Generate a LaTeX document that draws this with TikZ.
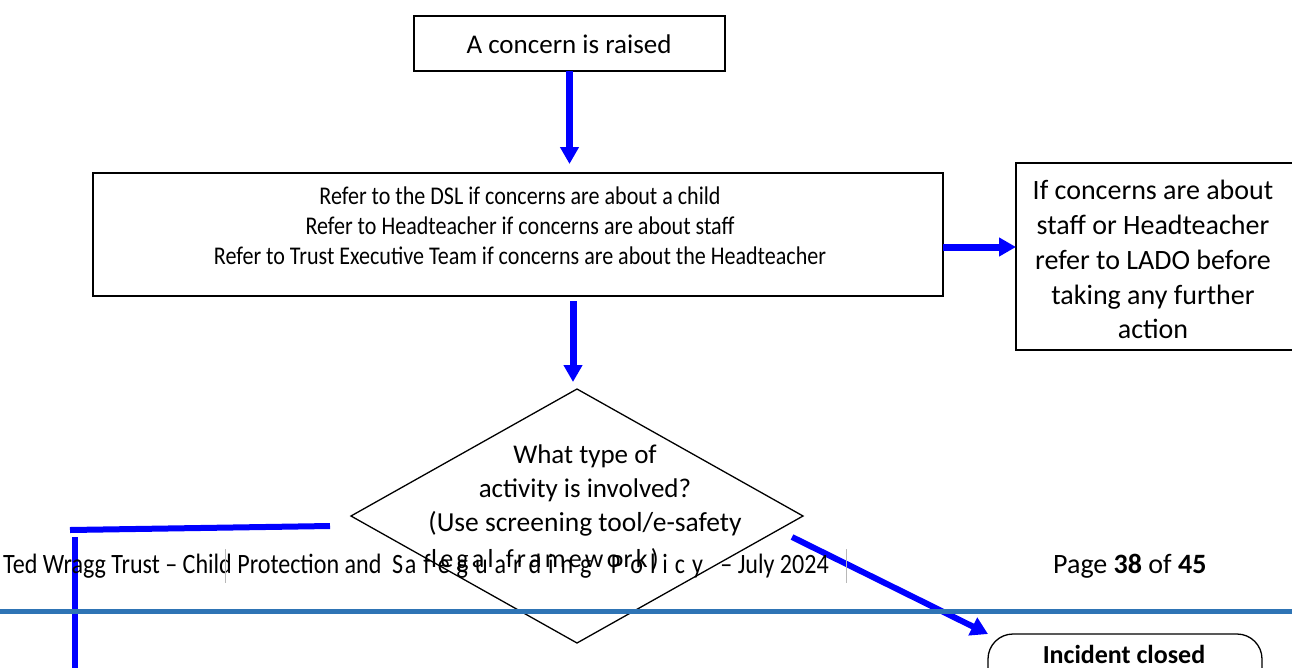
\documentclass[tikz,border=0pt]{standalone}
\usepackage{fontspec}
\usepackage{graphicx}
\setmainfont{Carlito}
\usetikzlibrary{arrows.meta,shapes.geometric}
\definecolor{footblue}{RGB}{46,116,181}
\definecolor{arrblue}{RGB}{0,0,255}
\newcommand\fsz[1]{\fontsize{#1pt}{#1pt}\selectfont}
\newcommand\lsa{\kern8.1pt}
\newcommand\lsb{\kern3.2pt}
\newcommand\cnd[1]{\scalebox{0.865}[1]{#1}}
\newcommand\ftc[1]{\scalebox{0.86}[1]{#1}}
\begin{document}
\begin{tikzpicture}[x=1pt,y=-1pt,
  box/.style={draw=black,line width=1.3pt,inner sep=0pt,outer sep=0pt},
  txt/.style={inner sep=0pt,anchor=base,font=\fsz{26}},
  foot/.style={inner sep=0pt,font=\fsz{28}},
  arr/.style={draw=arrblue,line width=7pt,-{Triangle[length=17pt,width=18pt]}},
  arrd/.style={draw=arrblue,line width=6pt,-{Triangle[length=17pt,width=19pt]}},
  bline/.style={draw=arrblue,line width=6pt},
  bar/.style={draw=black!28,line width=0.8pt}]
\useasboundingbox (0,0) rectangle (1292,667);
\clip (0,0) rectangle (1292,667);

% boxes
\node[box,minimum width=311pt,minimum height=55pt] (b1) at (569.5,43.5) {};
\node[box,minimum width=850pt,minimum height=123pt] (b2) at (518,234.5) {};
\node[box,minimum width=300pt,minimum height=187pt] (lado) at (1166,256.5) {};
\node[box,diamond,minimum width=452pt,minimum height=254pt] (dia) at (577,516) {};
\node[box,rounded corners=25pt,minimum width=274pt,minimum height=70pt] (inc) at (1125,669) {};

% texts
\node[txt,font=\fsz{27}] (t1) at (569,53) {A concern is raised};
\node[txt,font=\fsz{25.5}] (t2a) at (520,204) {\cnd{Refer to the DSL if concerns are about a child}};
\node[txt,font=\fsz{25.5}] (t2b) at (520,234) {\cnd{Refer to Headteacher if concerns are about staff}};
\node[txt,font=\fsz{25.5}] (t2c) at (520,264) {\cnd{Refer to Trust Executive Team if concerns are about the Headteacher}};
\node[txt,font=\fsz{28}] (t3a) at (1153,199) {If concerns are about};
\node[txt,font=\fsz{28}] (t3b) at (1153,234) {staff or Headteacher};
\node[txt,font=\fsz{28}] (t3c) at (1153,269) {refer to LADO before};
\node[txt,font=\fsz{28}] (t3d) at (1153,304) {taking any further};
\node[txt,font=\fsz{28}] (t3e) at (1153,338) {action};
\node[txt,font=\fsz{27}] (t4a) at (585,463) {What type of};
\node[txt,font=\fsz{27}] (t4b) at (585,497) {activity is involved?};
\node[txt,font=\fsz{27.5}] (t4c) at (585,531) {(Use screening tool/e-safety};
\node[txt] (t4d) at (545,567) {l\lsb e\lsb g\lsb a\lsb l\lsb{} \lsb f\lsb r\lsb a\lsb m\lsb e\lsb w\lsb o\lsb r\lsb k\lsb )};
\node[txt,font=\fsz{26}\bfseries] (t5) at (1124,663) {Incident closed};

% connectors
\coordinate (a3e) at ([xshift=-4pt]dia.north);
\draw[arr] (b1.south) -- (b1.south |- b2.north) [shorten >=9pt];
\draw[arr] ([yshift=-12.5pt]b2.east) -- ([yshift=-12.5pt]b2.east -| lado.west);
\draw[arr,shorten <=5pt,shorten >=7pt] (a3e |- b2.south) -- (a3e);
\coordinate (d4s) at (792,537);
\draw[arrd] (d4s) -- (inc.north west);
\coordinate (l1) at (330,526);
\coordinate (l2) at (70,530);
\coordinate (l3) at (75,537);
\coordinate (l4) at (75,690);
\draw[bline] (l1) -- (l2);
\draw[bline] (l3) -- (l4);

% footer
\node[foot,anchor=base west] (f1) at (3,573) {\ftc{Ted Wragg Trust – Child Protection and}};
\node[foot,anchor=base west] (f2) at (392,573) {\ftc{S\kern2pt a\lsa f\lsa e\lsa g\lsa u\lsa a\lsa r\lsa d\lsa i\lsa n\lsa g\lsa{} \lsa P\lsa o\lsa l\lsa i\lsa c\lsa y}};
\node[foot,anchor=base east] (f3) at (829,573) {\ftc{– July 2024}};
\node[foot,font=\fsz{28},anchor=base west] (pg) at (1053,573) {Page \textbf{38} of \textbf{45}};
\draw[bar] (225,549) -- (225,583);
\draw[bar] (846,549) -- (846,583);
\draw[draw=footblue,line width=5pt] (0,611.5) -- (1292,611.5);
\end{tikzpicture}
\end{document}
